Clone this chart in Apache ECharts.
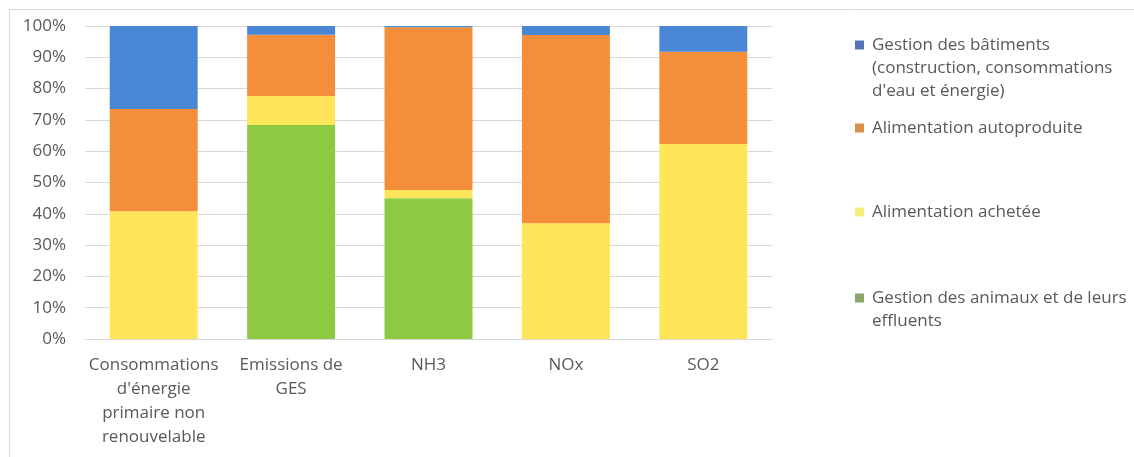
<!DOCTYPE html>
<html>
<head>
<meta charset="utf-8">
<script src="https://cdn.jsdelivr.net/npm/echarts@6/dist/echarts.min.js"></script>
<style>
html,body{margin:0;padding:0;background:#fff;}
#chart{width:1134px;height:457px;}
</style>
</head>
<body>
<div id="chart"></div>
<script>
const categories = ["Consommations\nd'énergie\nprimaire non\nrenouvelable", "Emissions de\nGES", "NH3", "NOx", "SO2"];
const seriesNames = [
  "Gestion des animaux et de leurs\neffluents",
  "Alimentation achetée",
  "Alimentation autoproduite",
  "Gestion des bâtiments\n(construction, consommations\nd'eau et énergie)"
];
const animaux = [0, 68.4, 45.0, 0, 0];
const achetee = [40.8, 9.2, 2.6, 37.0, 62.3];
const autoproduite = [32.7, 19.6, 52.0, 60.1, 29.5];
const batiments = [26.5, 2.8, 0.4, 2.9, 8.2];
const yTicks = [0, 10, 20, 30, 40, 50, 60, 70, 80, 90, 100];

const colors = ['#8DC943', '#FFE55A', '#F48E3B', '#4A86D6'];
const legendColors = ['#8CA56A', '#F4EE7C', '#DA8E4C', '#5574B8'];
const values = [animaux, achetee, autoproduite, batiments];
const legendCenters = [298, 212, 128, 45];
const LH = 23;

const font = '"Open Sans", sans-serif';
const chart = echarts.init(document.getElementById('chart'));
chart.setOption({
  animation: false,
  backgroundColor: '#fff',
  textStyle: {fontFamily: font},
  graphic: [{
    type: 'rect', left: 7, top: 7,
    shape: {width: 1140, height: 460},
    style: {fill: 'none', stroke: '#D9D9D9', lineWidth: 1}
  }],
  grid: {left: 85, right: 362, top: 26, bottom: 118, containLabel: false},
  legend: seriesNames.map((n, i) => {
    const lines = n.split('\n').length;
    const boxH = (2 * lines - 1) * LH;
    return {
      data: [{name: n, itemStyle: {color: legendColors[i]}}],
      left: 855, top: legendCenters[i] - boxH / 2,
      padding: 0,
      orient: 'vertical',
      itemWidth: 9, itemHeight: 9, itemGap: 0,
      icon: 'rect',
      selectedMode: false,
      formatter: name => '\n'.repeat(name.split('\n').length - 1) + name,
      textStyle: {fontFamily: font, fontSize: 17, color: '#595959', lineHeight: LH,
        padding: [0, 0, 0, 3]}
    };
  }),
  xAxis: {
    type: 'category',
    data: categories,
    axisLine: {lineStyle: {color: '#D9D9D9'}},
    axisTick: {show: false},
    axisLabel: {fontFamily: font, fontSize: 17, color: '#595959', lineHeight: 24, margin: 14, interval: 0}
  },
  yAxis: {
    type: 'value', min: 0, max: 100, interval: 10,
    axisLabel: {fontFamily: font, fontSize: 17, color: '#595959', margin: 19,
      formatter: v => yTicks.includes(v) ? v + '%' : ''},
    splitLine: {lineStyle: {color: '#D9D9D9'}},
    axisLine: {show: false}, axisTick: {show: false}
  },
  series: seriesNames.map((n, i) => ({
    name: n, type: 'bar', stack: 'total',
    data: values[i],
    barCategoryGap: '36%',
    itemStyle: {color: colors[i]}
  }))
});
</script>
</body>
</html>
